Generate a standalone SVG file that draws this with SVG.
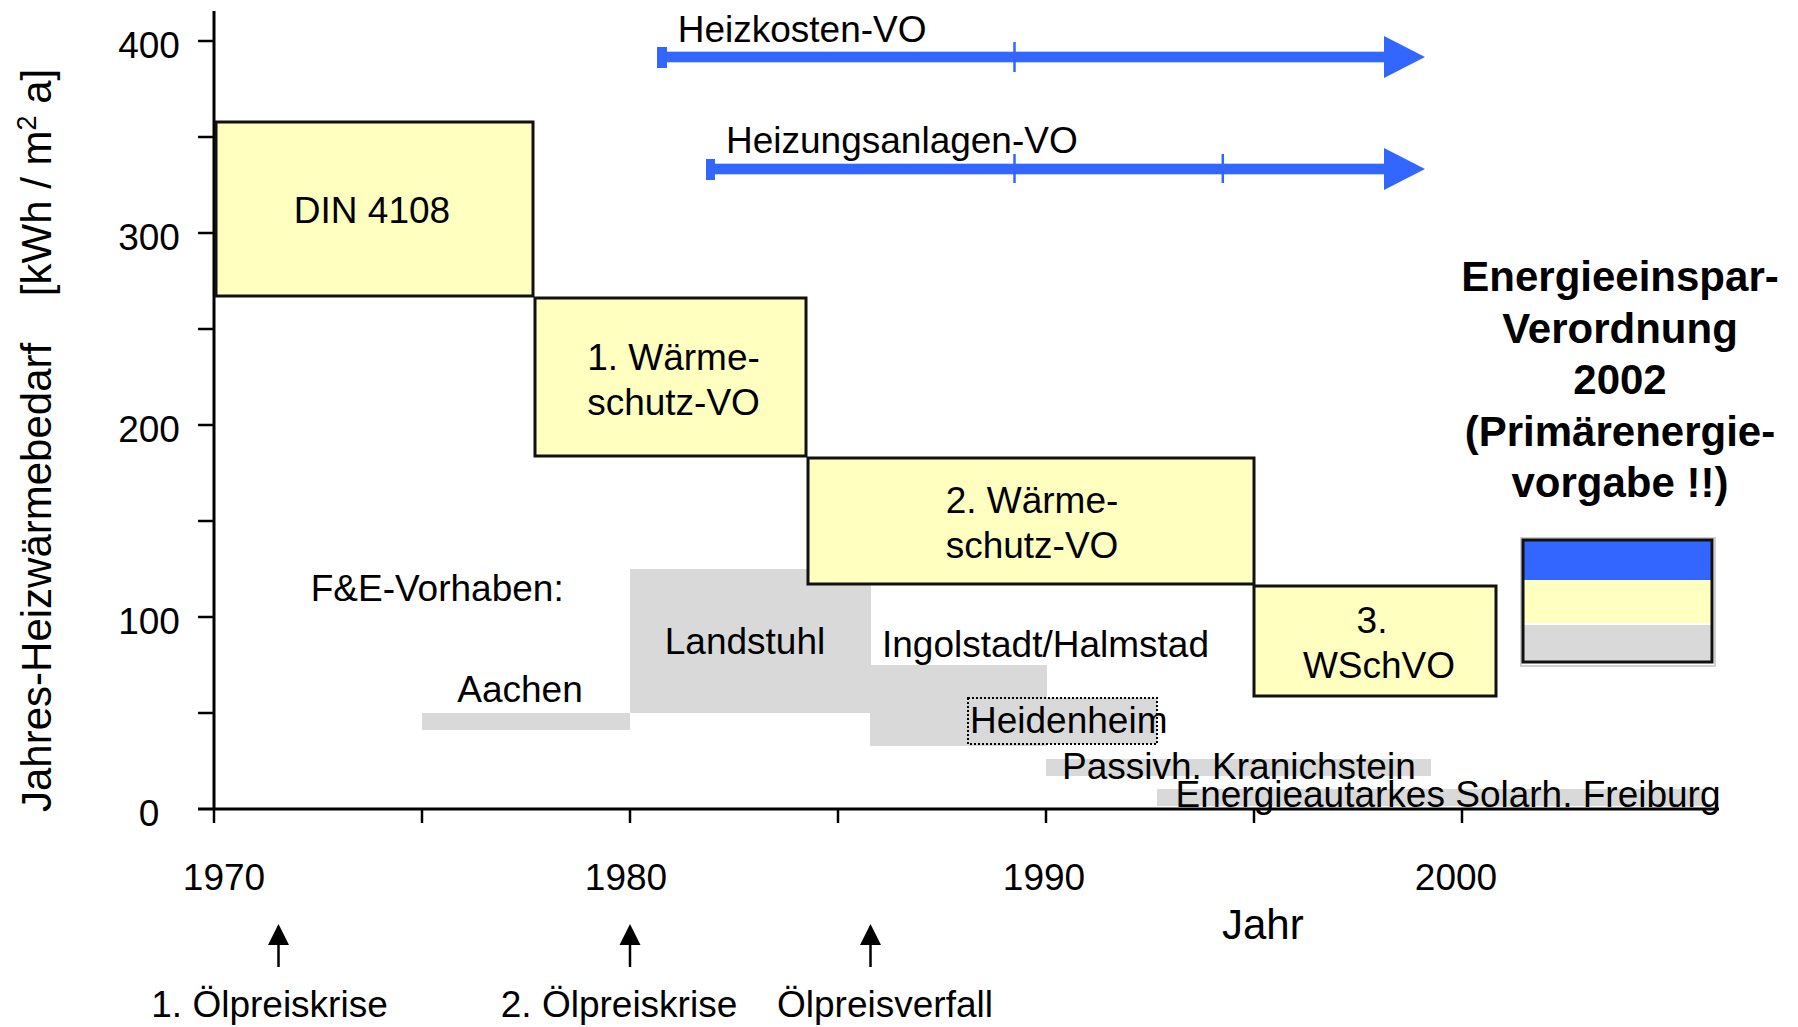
<svg xmlns="http://www.w3.org/2000/svg" width="1798" height="1027" viewBox="0 0 1798 1027">
<defs>
<style>
text{font-family:"Liberation Sans",Arial,sans-serif;font-size:37px;fill:#000}
.mid{text-anchor:middle}
.bold{font-weight:bold;font-size:42px;text-anchor:middle}
.box{fill:#FFFFC0;stroke:#111;stroke-width:3}
.gray{fill:#D9D9D9;stroke:none}
.axis{stroke:#000;stroke-width:3;fill:none}
.tick{stroke:#000;stroke-width:2.5;fill:none}
.blue{fill:#3366FF;stroke:none}
.btick{stroke:#3366FF;stroke-width:2.5}
.oil{stroke:#000;stroke-width:2.5}
</style>
</defs>
<rect x="0" y="0" width="1798" height="1027" fill="#fff"/>

<!-- F&E gray areas -->
<g id="aachen"><rect class="gray" x="422" y="713" width="208" height="17"/><text x="520" y="702" class="mid">Aachen</text></g>
<g id="landstuhl"><rect class="gray" x="630" y="569" width="241" height="144"/><text x="745" y="654" class="mid">Landstuhl</text></g>
<g id="ingolstadt"><rect class="gray" x="870" y="665" width="177" height="81"/><text x="882" y="657">Ingolstadt/Halmstad</text></g>
<g id="heidenheim"><rect x="968" y="698" width="189" height="46" fill="#D9D9D9" stroke="#000" stroke-width="2" stroke-dasharray="2,2"/><text x="970" y="733">Heidenheim</text></g>
<g id="passivh"><rect class="gray" x="1046" y="759" width="385" height="17"/><text x="1062" y="779">Passivh. Kranichstein</text></g>
<g id="freiburg"><rect class="gray" x="1157" y="789" width="548" height="17"/></g>

<!-- axes -->
<g id="axes">
<line class="axis" x1="214" y1="11" x2="214" y2="810"/>
<line class="axis" x1="198" y1="809" x2="1719" y2="809"/>
<g class="tick">
<line x1="198" y1="41" x2="214" y2="41"/>
<line x1="198" y1="137" x2="214" y2="137"/>
<line x1="198" y1="233" x2="214" y2="233"/>
<line x1="198" y1="329" x2="214" y2="329"/>
<line x1="198" y1="425" x2="214" y2="425"/>
<line x1="198" y1="521" x2="214" y2="521"/>
<line x1="198" y1="617" x2="214" y2="617"/>
<line x1="198" y1="713" x2="214" y2="713"/>
<line x1="214" y1="809" x2="214" y2="823"/>
<line x1="422" y1="809" x2="422" y2="823"/>
<line x1="630" y1="809" x2="630" y2="823"/>
<line x1="838" y1="809" x2="838" y2="823"/>
<line x1="1046" y1="809" x2="1046" y2="823"/>
<line x1="1254" y1="809" x2="1254" y2="823"/>
<line x1="1462" y1="809" x2="1462" y2="823"/>
</g>
<text x="149" y="58" class="mid">400</text>
<text x="149" y="250" class="mid">300</text>
<text x="149" y="442" class="mid">200</text>
<text x="149" y="634" class="mid">100</text>
<text x="149" y="826" class="mid">0</text>
<text x="224" y="890" class="mid">1970</text>
<text x="626" y="890" class="mid">1980</text>
<text x="1044" y="890" class="mid">1990</text>
<text x="1456" y="890" class="mid">2000</text>
<text x="1222" y="939" style="font-size:42px">Jahr</text>
<text transform="translate(51,812) rotate(-90)" style="font-size:42px" xml:space="preserve">Jahres-Heizwärmebedarf    [kWh / m<tspan dy="-15" style="font-size:27px">2</tspan><tspan dy="15"> a]</tspan></text>
</g>

<text x="1175.5" y="806.7">Energieautarkes Solarh. Freiburg</text>
<text x="310.7" y="600.7">F&amp;E-Vorhaben:</text>

<!-- regulation boxes -->
<g id="din4108"><rect class="box" x="216" y="122" width="317" height="174"/><text x="372" y="223" class="mid">DIN 4108</text></g>
<g id="wschvo1"><rect class="box" x="535" y="298" width="271" height="158"/><text x="673.5" y="370" class="mid">1. Wärme-</text><text x="673.5" y="415" class="mid">schutz-VO</text></g>
<g id="wschvo2"><rect class="box" x="808" y="458" width="446" height="126"/><text x="1032" y="513" class="mid">2. Wärme-</text><text x="1032" y="558" class="mid">schutz-VO</text></g>
<g id="wschvo3"><rect class="box" x="1254" y="586" width="242" height="110"/><text x="1372" y="633" class="mid">3.</text><text x="1379" y="678" class="mid">WSchVO</text></g>

<!-- EnEV -->
<g id="enev">
<text class="bold" x="1620" y="291">Energieeinspar-</text>
<text class="bold" x="1620" y="342.5">Verordnung</text>
<text class="bold" x="1620" y="394">2002</text>
<text class="bold" x="1620" y="445.5">(Primärenergie-</text>
<text class="bold" x="1620" y="497">vorgabe !!)</text>
<rect x="1521" y="538" width="194" height="128" fill="none" stroke="#d0d0d0" stroke-width="2"/>
<rect x="1523" y="540" width="189" height="40" fill="#3366FF"/>
<rect x="1523" y="580" width="189" height="43" fill="#FFFFC0"/>
<rect x="1523" y="625" width="189" height="37" fill="#D9D9D9"/>
<rect x="1523" y="540" width="189" height="122" fill="none" stroke="#111" stroke-width="3"/>
</g>

<!-- connectors -->
<g id="connectors">
<g id="heizkosten">
<rect class="blue" x="657" y="47" width="10" height="21"/>
<rect class="blue" x="665" y="51.7" width="720" height="10.6"/>
<polygon class="blue" points="1384,36 1425,57 1384,78"/>
<line class="btick" x1="1014.5" y1="42" x2="1014.5" y2="72"/>
<text x="677.7" y="42">Heizkosten-VO</text>
</g>
<g id="heizungsanlagen">
<rect class="blue" x="706" y="159" width="9" height="21"/>
<rect class="blue" x="713" y="163.7" width="672" height="10.6"/>
<polygon class="blue" points="1384,148 1425,169 1384,190"/>
<line class="btick" x1="1014.5" y1="154" x2="1014.5" y2="183"/>
<line class="btick" x1="1222.8" y1="154" x2="1222.8" y2="183"/>
<text x="726" y="153">Heizungsanlagen-VO</text>
</g>
<g id="oil1"><line class="oil" x1="278.5" y1="940" x2="278.5" y2="967"/><polygon points="278.5,924 289,945 268,945" fill="#000"/></g>
<g id="oil2"><line class="oil" x1="630" y1="940" x2="630" y2="967"/><polygon points="630,924 640.5,945 619.5,945" fill="#000"/></g>
<g id="oil3"><line class="oil" x1="870.5" y1="940" x2="870.5" y2="967"/><polygon points="870.5,924 881,945 860,945" fill="#000"/></g>
</g>
<text x="269.5" y="1017" class="mid">1. Ölpreiskrise</text>
<text x="619" y="1017" class="mid">2. Ölpreiskrise</text>
<text x="885" y="1017" class="mid">Ölpreisverfall</text>
</svg>
